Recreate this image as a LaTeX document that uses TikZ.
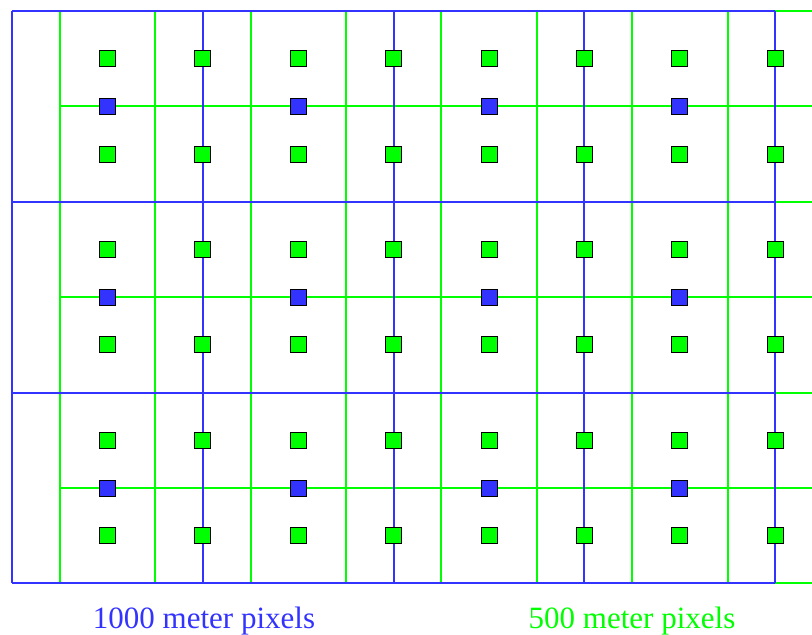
\documentclass[tikz,border=0pt]{standalone}
\usepackage{fontspec}
\setmainfont{Liberation Serif}
\definecolor{pixblue}{RGB}{51,51,255}
\definecolor{pixgreen}{RGB}{0,255,0}
\begin{document}
\begin{tikzpicture}[x=1pt,y=-1pt,
  bluegrid/.style={draw=pixblue,line width=2pt},
  greengrid/.style={draw=pixgreen,line width=2pt},
  gsq/.style={draw=black,line width=0.9pt,fill=pixgreen,minimum size=16pt,inner sep=0pt,outer sep=0pt},
  bsq/.style={draw=black,line width=0.9pt,fill=pixblue,minimum size=16pt,inner sep=0pt,outer sep=0pt},
  lbl/.style={font=\fontsize{31}{36}\selectfont,anchor=base,inner sep=0pt}]
\useasboundingbox (0,0) rectangle (812,635);
% green 500 m grid
\foreach \i in {0,...,6} {
  \draw[greengrid] (59.7,{11+95.4*\i}) -- (812,{11+95.4*\i});
}
\foreach \i in {0,...,7} {
  \draw[greengrid] ({59.7+95.4*\i},11) -- ({59.7+95.4*\i},583.4);
}
% blue 1000 m grid
\foreach \i in {0,...,3} {
  \draw[bluegrid] (12,{11+190.8*\i}) -- (775.2,{11+190.8*\i});
}
\foreach \i in {0,...,4} {
  \draw[bluegrid] ({12+190.8*\i},11) -- ({12+190.8*\i},583.4);
}
% green pixel centres
\foreach \i in {0,...,7} {
  \foreach \j in {0,...,5} {
    \node[gsq] (g-\i-\j) at ({107.4+95.4*\i},{58.7+95.4*\j}) {};
  }
}
% blue pixel centres
\foreach \i in {0,...,3} {
  \foreach \j in {0,...,2} {
    \node[bsq] (b-\i-\j) at ({107.4+190.8*\i},{106.4+190.8*\j}) {};
  }
}
\node[lbl,text=pixblue] (lblue) at (204,628) {1000 meter pixels};
\node[lbl,text=pixgreen] (lgreen) at (632,628) {500 meter pixels};
\end{tikzpicture}
\end{document}
